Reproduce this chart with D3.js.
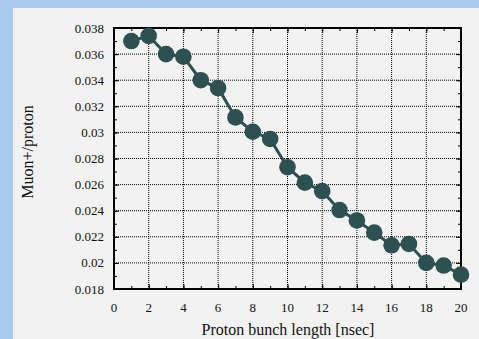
<!DOCTYPE html>
<html><head><meta charset="utf-8">
<script src="https://cdn.jsdelivr.net/npm/d3@7"></script>
<style>body{margin:0;background:#a9cbee;} svg{display:block;}</style>
</head><body>
<svg id="c" width="479" height="339"></svg>
<script>
const bunchLength = [1,2,3,4,5,6,7,8,9,10,11,12,13,14,15,16,17,18,19,20];
const muonPerProton = [0.0370,0.0374,0.0360,0.0358,0.0340,0.0334,0.03115,0.03005,0.0295,0.02733,0.02615,0.0255,0.02405,0.02325,0.02232,0.02135,0.02145,0.0200,0.01980,0.0191];
const xTicks = [0,2,4,6,8,10,12,14,16,18,20];
const yTicks = [0.018,0.02,0.022,0.024,0.026,0.028,0.03,0.032,0.034,0.036,0.038];
const yTickLabels = ["0.018","0.02","0.022","0.024","0.026","0.028","0.03","0.032","0.034","0.036","0.038"];

const svg = d3.select("#c");
svg.append("rect").attr("x",13).attr("y",8).attr("width",466).attr("height",331).attr("fill","#f2f2f2");
const L=114,R=461,T=28,B=289;
const x = d3.scaleLinear().domain([0,20]).range([L,R]);
const y = d3.scaleLinear().domain([0.018,0.038]).range([B,T]);
const font = "'Liberation Serif','Times New Roman',serif";

// grid
const g = svg.append("g");
g.selectAll(".gx").data(xTicks.slice(1,-1)).enter().append("line")
 .attr("x1",d=>x(d)).attr("x2",d=>x(d)).attr("y1",T).attr("y2",B)
 .attr("stroke","#000").attr("stroke-width",1).attr("stroke-dasharray","1,1");
g.selectAll(".gy").data(yTicks.slice(1,-1)).enter().append("line")
 .attr("y1",d=>y(d)).attr("y2",d=>y(d)).attr("x1",L).attr("x2",R)
 .attr("stroke","#000").attr("stroke-width",1).attr("stroke-dasharray","1,1");

// axes with inward ticks
const xMinor = d3.range(0,21,1), yMinor = d3.range(0.018,0.03801,0.001);
const axB = d3.axisBottom(x).tickValues(xMinor).tickSize(-3).tickFormat("");
const axT = d3.axisTop(x).tickValues(xMinor).tickSize(-3).tickFormat("");
const axL = d3.axisLeft(y).tickValues(yMinor).tickSize(-3).tickFormat("");
const axR = d3.axisRight(y).tickValues(yMinor).tickSize(-3).tickFormat("");
[[axB,`translate(0,${B})`],[axT,`translate(0,${T})`],[axL,`translate(${L},0)`],[axR,`translate(${R},0)`]].forEach(([a,t])=>{
  const gg = svg.append("g").attr("transform",t).call(a);
  gg.select(".domain").remove();
  gg.selectAll("line").attr("stroke","#000");
});
// major ticks longer
svg.append("g").attr("transform",`translate(0,${B})`).call(d3.axisBottom(x).tickValues(xTicks).tickSize(-5).tickFormat(""))
 .call(s=>{s.select(".domain").remove();s.selectAll("line").attr("stroke","#000");});
svg.append("g").attr("transform",`translate(${L},0)`).call(d3.axisLeft(y).tickValues(yTicks).tickSize(-5).tickFormat(""))
 .call(s=>{s.select(".domain").remove();s.selectAll("line").attr("stroke","#000");});
svg.append("g").attr("transform",`translate(0,${T})`).call(d3.axisTop(x).tickValues(xTicks).tickSize(-5).tickFormat(""))
 .call(s=>{s.select(".domain").remove();s.selectAll("line").attr("stroke","#000");});
svg.append("g").attr("transform",`translate(${R},0)`).call(d3.axisRight(y).tickValues(yTicks).tickSize(-5).tickFormat(""))
 .call(s=>{s.select(".domain").remove();s.selectAll("line").attr("stroke","#000");});

// frame
svg.append("rect").attr("x",L).attr("y",T).attr("width",R-L).attr("height",B-T)
 .attr("fill","none").attr("stroke","#000").attr("stroke-width",2);

// tick labels
svg.selectAll(".xl").data(xTicks).enter().append("text")
 .attr("x",d=>x(d)).attr("y",312).attr("text-anchor","middle")
 .attr("font-family",font).attr("font-size",13).attr("fill","#111").text(d=>d);
svg.selectAll(".yl").data(yTicks).enter().append("text")
 .attr("x",104).attr("y",d=>y(d)+4.5).attr("text-anchor","end")
 .attr("font-family",font).attr("font-size",13).attr("fill","#111").text((d,i)=>yTickLabels[i]);

// titles
svg.append("text").attr("x",288).attr("y",335).attr("text-anchor","middle")
 .attr("font-family",font).attr("font-size",16).attr("fill","#111").text("Proton bunch length [nsec]");
svg.append("text").attr("transform",`translate(33,152) rotate(-90)`).attr("text-anchor","middle")
 .attr("font-family",font).attr("font-size",16).attr("fill","#111").text("Muon+/proton");

// data
const pts = bunchLength.map((b,i)=>[b,muonPerProton[i]]);
svg.append("path").datum(pts)
 .attr("d",d3.line().x(d=>x(d[0])).y(d=>y(d[1])))
 .attr("fill","none").attr("stroke","#2d5050").attr("stroke-width",3);
svg.selectAll(".pt").data(pts).enter().append("circle")
 .attr("cx",d=>x(d[0])).attr("cy",d=>y(d[1])).attr("r",8.3).attr("fill","#2d5050");
</script>
</body></html>
